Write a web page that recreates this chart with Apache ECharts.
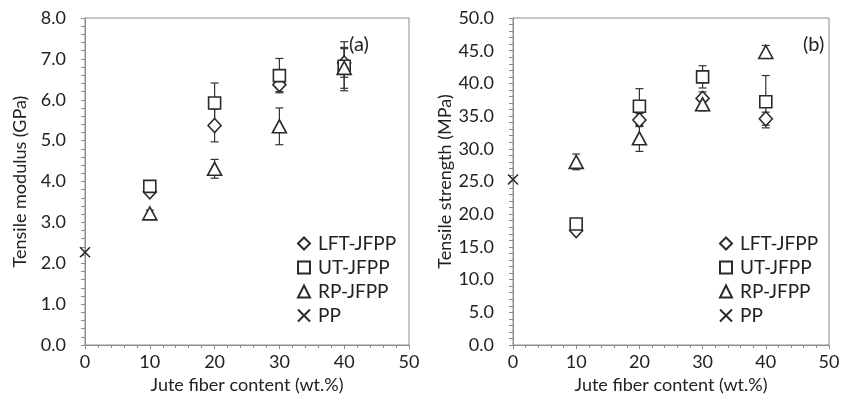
<!DOCTYPE html>
<html><head><meta charset="utf-8">
<script src="https://cdn.jsdelivr.net/npm/echarts@6/dist/echarts.min.js"></script>
<style>html,body{margin:0;padding:0;background:#fff}#c{width:852px;height:403px}</style>
</head><body><div id="c"></div>
<script>
const seriesNames = ['LFT-JFPP', 'UT-JFPP', 'RP-JFPP', 'PP'];
const fiberContent = [10, 20, 30, 40];
const ppContent = [0];
const xTicks = [0, 10, 20, 30, 40, 50];

const modulusLFT = [3.75, 5.37, 6.37, 6.90];
const modulusLFTErr = [0.08, 0.40, 0.17, 0.35];
const modulusUT = [3.88, 5.92, 6.59, 6.82];
const modulusUTErr = [0.08, 0.49, 0.42, 0.60];
const modulusRP = [3.22, 4.31, 5.35, 6.78];
const modulusRPErr = [0.08, 0.23, 0.45, 0.50];
const modulusPP = [2.27];

const strengthLFT = [17.5, 34.4, 37.7, 34.6];
const strengthLFTErr = [0.5, 1.0, 1.0, 1.0];
const strengthUT = [18.5, 36.5, 41.0, 37.2];
const strengthUTErr = [0.6, 2.7, 1.7, 4.0];
const strengthRP = [28.0, 31.6, 36.8, 44.8];
const strengthRPErr = [1.2, 2.0, 1.0, 1.0];
const strengthPP = [25.3];

const FONT = 'Lato';
const TXT = '#222';
const AX = '#8c8c8c';
const crossPath = 'path://M0,0L10,10M10,0L0,10';
const symbols = {'LFT-JFPP': 'diamond', 'UT-JFPP': 'rect', 'RP-JFPP': 'triangle', 'PP': crossPath};
const sizes = {'LFT-JFPP': [13, 14], 'UT-JFPP': 12, 'RP-JFPP': [14, 13], 'PP': 10};

function pts(xs, ys) { return xs.map((x, i) => [x, ys[i]]); }
function errs(xs, ys, es) { return xs.map((x, i) => [x, ys[i] - es[i], ys[i] + es[i]]); }

function errorSeries(idx, data) {
  return {
    type: 'custom', xAxisIndex: idx, yAxisIndex: idx, z: 1, silent: true,
    renderItem: function (params, api) {
      const x = api.value(0), lo = api.value(1), hi = api.value(2);
      const a = api.coord([x, hi]), b = api.coord([x, lo]);
      const st = {stroke: '#333', lineWidth: 1.2};
      return {type: 'group', children: [
        {type: 'line', shape: {x1: a[0], y1: a[1], x2: b[0], y2: b[1]}, style: st},
        {type: 'line', shape: {x1: a[0] - 4, y1: a[1], x2: a[0] + 4, y2: a[1]}, style: st},
        {type: 'line', shape: {x1: b[0] - 4, y1: b[1], x2: b[0] + 4, y2: b[1]}, style: st}
      ]};
    },
    data: data
  };
}
function scatter(idx, name, data) {
  return {
    type: 'scatter', name: name, xAxisIndex: idx, yAxisIndex: idx, z: 3,
    symbol: symbols[name], symbolSize: sizes[name],
    itemStyle: {opacity: 1, color: name === 'PP' ? 'rgba(0,0,0,0)' : '#fff', borderColor: '#2a2a2a', borderWidth: 1.6},
    data: data
  };
}

function xAxis(idx) {
  return {
    type: 'value', gridIndex: idx, min: xTicks[0], max: xTicks[xTicks.length - 1], interval: 10,
    name: 'Jute fiber content (wt.%)', nameLocation: 'middle', nameGap: 28,
    nameTextStyle: {fontFamily: FONT, fontSize: 18, color: TXT},
    axisLine: {show: true, lineStyle: {color: AX}},
    axisTick: {show: true, length: 4, lineStyle: {color: AX}},
    minorTick: {show: true, splitNumber: 5, length: 3, lineStyle: {color: AX}},
    axisLabel: {fontFamily: FONT, fontSize: 18, color: TXT, margin: 8},
    splitLine: {show: false}
  };
}
function yAxis(idx, max, interval, name) {
  return {
    type: 'value', gridIndex: idx, min: 0, max: max, interval: interval,
    name: name, nameLocation: 'middle', nameGap: idx === 0 ? 56 : 55,
    nameTextStyle: {fontFamily: FONT, fontSize: 18, color: TXT},
    axisLine: {show: true, lineStyle: {color: AX}},
    axisTick: {show: true, length: 4, lineStyle: {color: AX}},
    minorTick: {show: true, splitNumber: 5, length: 4, lineStyle: {color: AX}},
    axisLabel: {fontFamily: FONT, fontSize: 18, color: TXT, margin: 19, formatter: v => v.toFixed(1)},
    splitLine: {show: false}
  };
}
function legend(left) {
  return {
    left: left, top: 234, orient: 'vertical', itemGap: 5, itemWidth: 12, itemHeight: 12, padding: 0,
    selectedMode: false, data: seriesNames,
    textStyle: {fontFamily: FONT, fontSize: 19, color: TXT, padding: [0, 0, 0, 3]}
  };
}

const chart = echarts.init(document.getElementById('c'));
chart.setOption({
  animation: false,
  backgroundColor: '#fff',
  title: [
    {text: '(a)', left: 344, top: 30, textStyle: {fontFamily: FONT, fontSize: 20, fontWeight: 'normal', color: TXT}},
    {text: '(b)', left: 798, top: 30, textStyle: {fontFamily: FONT, fontSize: 20, fontWeight: 'normal', color: TXT}}
  ],
  legend: [legend(297), legend(719)],
  grid: [
    {left: 85, right: 443, top: 18, bottom: 58, show: true, borderColor: AX, borderWidth: 1},
    {left: 513, right: 23, top: 18, bottom: 58, show: true, borderColor: AX, borderWidth: 1}
  ],
  xAxis: [xAxis(0), xAxis(1)],
  yAxis: [yAxis(0, 8, 1, 'Tensile modulus (GPa)'), yAxis(1, 50, 5, 'Tensile strength (MPa)')],
  series: [
    errorSeries(0, errs(fiberContent, modulusRP, modulusRPErr)),
    errorSeries(0, errs(fiberContent, modulusUT, modulusUTErr)),
    errorSeries(0, errs(fiberContent, modulusLFT, modulusLFTErr)),
    scatter(0, 'LFT-JFPP', pts(fiberContent, modulusLFT)),
    scatter(0, 'UT-JFPP', pts(fiberContent, modulusUT)),
    scatter(0, 'RP-JFPP', pts(fiberContent, modulusRP)),
    scatter(0, 'PP', pts(ppContent, modulusPP)),
    errorSeries(1, errs(fiberContent, strengthRP, strengthRPErr)),
    errorSeries(1, errs(fiberContent, strengthUT, strengthUTErr)),
    errorSeries(1, errs(fiberContent, strengthLFT, strengthLFTErr)),
    scatter(1, 'LFT-JFPP', pts(fiberContent, strengthLFT)),
    scatter(1, 'UT-JFPP', pts(fiberContent, strengthUT)),
    scatter(1, 'RP-JFPP', pts(fiberContent, strengthRP)),
    scatter(1, 'PP', pts(ppContent, strengthPP))
  ]
});
</script></body></html>
